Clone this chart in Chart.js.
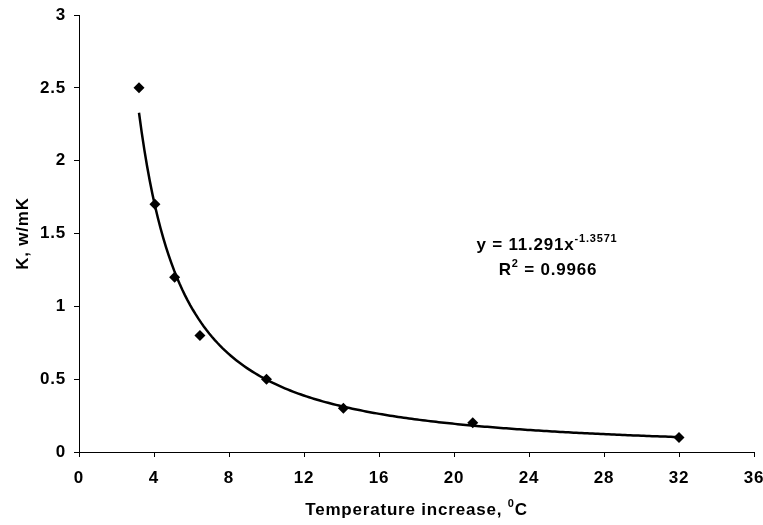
<!DOCTYPE html>
<html>
<head>
<meta charset="utf-8">
<script src="https://cdn.jsdelivr.net/npm/chart.js@4.4.1/dist/chart.umd.min.js"></script>
<style>
  html, body { margin: 0; padding: 0; background: #fff; }
  #wrap { width: 763px; height: 525px; }
</style>
</head>
<body>
<div id="wrap"><canvas id="chart" width="763" height="525"></canvas></div>
<script>
// measured conductivity vs temperature rise
const tempRise = [3.2, 4.05, 5.1, 6.45, 10, 14.1, 21, 32];
const conductivity = [2.5, 1.7, 1.2, 0.8, 0.5, 0.3, 0.2, 0.1];

// power trendline y = a * x^b (Excel fit)
const fitA = 11.291;
const fitB = -1.3571;
const fitR2 = 0.9966;

const xTicks = [0, 4, 8, 12, 16, 20, 24, 28, 32, 36];
const yTicks = [0, 0.5, 1, 1.5, 2, 2.5, 3];

const FONT = "'Liberation Sans', Arial, sans-serif";
const SIZE = 17;

const points = tempRise.map((x, i) => ({ x, y: conductivity[i] }));

// trend curve sampled over the data range
const xMin = Math.min(...tempRise), xMax = Math.max(...tempRise);
const trend = [];
for (let i = 0; i <= 200; i++) {
  const x = xMin + (xMax - xMin) * i / 200;
  trend.push({ x, y: fitA * Math.pow(x, fitB) });
}

// text with a raised, smaller middle part, centred on cx
function drawSup(ctx, base, sup, tail, cx, cy, size) {
  const big = "bold " + size + "px " + FONT;
  const small = "bold " + Math.round(size * 0.65) + "px " + FONT;
  ctx.font = big;
  const wBase = ctx.measureText(base).width;
  const wTail = ctx.measureText(tail).width;
  ctx.font = small;
  const wSup = ctx.measureText(sup).width;
  let x = cx - (wBase + wSup + wTail) / 2;
  ctx.textBaseline = "middle";
  ctx.textAlign = "left";
  ctx.font = big;
  ctx.fillText(base, x, cy);
  x += wBase;
  ctx.font = small;
  ctx.fillText(sup, x, cy - size * 0.38);
  x += wSup;
  ctx.font = big;
  ctx.fillText(tail, x, cy);
}

const spacing = {
  id: "spacing",
  beforeDraw(chart) { chart.ctx.letterSpacing = "0.8px"; }
};

// pin the plot box: left 79, right 754, top 15, bottom 452
const plotBox = {
  id: "plotBox",
  afterLayout(chart) {
    const a = chart.chartArea;
    a.left = 79; a.right = 754; a.top = 15; a.bottom = 452;
    a.width = a.right - a.left; a.height = a.bottom - a.top;
    const x = chart.scales.x, y = chart.scales.y;
    x.left = a.left; x.right = a.right; x.width = a.width;
    x.top = a.bottom; x.bottom = 525;
    y.top = a.top; y.bottom = a.bottom; y.height = a.height;
    y.left = 0; y.right = a.left;
    x.configure(); y.configure();
  }
};

const textPlugin = {
  id: "texts",
  afterDraw(chart) {
    const ctx = chart.ctx;
    const area = chart.chartArea;
    ctx.save();
    ctx.letterSpacing = "0.8px";
    ctx.fillStyle = "#000";
    // x axis title with superscript degree
    drawSup(ctx, "Temperature increase, ", "0", "C", (area.left + area.right) / 2, 510, SIZE);
    // trendline equation
    drawSup(ctx, "y = " + fitA + "x", String(fitB), "", 547, 245, SIZE);
    drawSup(ctx, "R", "2", " = " + fitR2, 548, 270, SIZE);
    ctx.restore();
  }
};

const axisLine = {
  grid: { display: true, drawOnChartArea: false, drawTicks: true, tickLength: 5, color: "#000", lineWidth: 1 },
  border: { display: true, color: "#000", width: 1 }
};

const tickFont = { family: FONT, size: SIZE, weight: "bold" };

new Chart(document.getElementById("chart").getContext("2d"), {
  type: "scatter",
  data: {
    datasets: [
      {
        label: "K",
        data: points,
        showLine: false,
        pointStyle: "rectRot",
        pointRadius: 5.5,
        backgroundColor: "#000",
        borderColor: "#000",
        borderWidth: 0
      },
      {
        label: "Power fit",
        data: trend,
        showLine: true,
        pointRadius: 0,
        borderColor: "#000",
        borderWidth: 2.5,
        tension: 0
      }
    ]
  },
  options: {
    responsive: false,
    animation: false,
    layout: { padding: 0 },
    plugins: { legend: { display: false }, tooltip: { enabled: false } },
    scales: {
      x: {
        type: "linear",
        min: 0,
        max: 36,
        afterBuildTicks: s => { s.ticks = xTicks.map(v => ({ value: v })); },
        ticks: { color: "#000", padding: 11, font: tickFont, callback: v => String(v) },
        title: { display: false },
        ...axisLine
      },
      y: {
        type: "linear",
        min: 0,
        max: 3,
        afterBuildTicks: s => { s.ticks = yTicks.map(v => ({ value: v })); },
        ticks: { color: "#000", padding: 8, font: tickFont, callback: v => String(v) },
        title: {
          display: true,
          text: "K, w/mK",
          color: "#000",
          padding: { top: 13, bottom: 0 },
          font: tickFont
        },
        ...axisLine
      }
    }
  },
  plugins: [spacing, plotBox, textPlugin]
});
</script>
</body>
</html>
